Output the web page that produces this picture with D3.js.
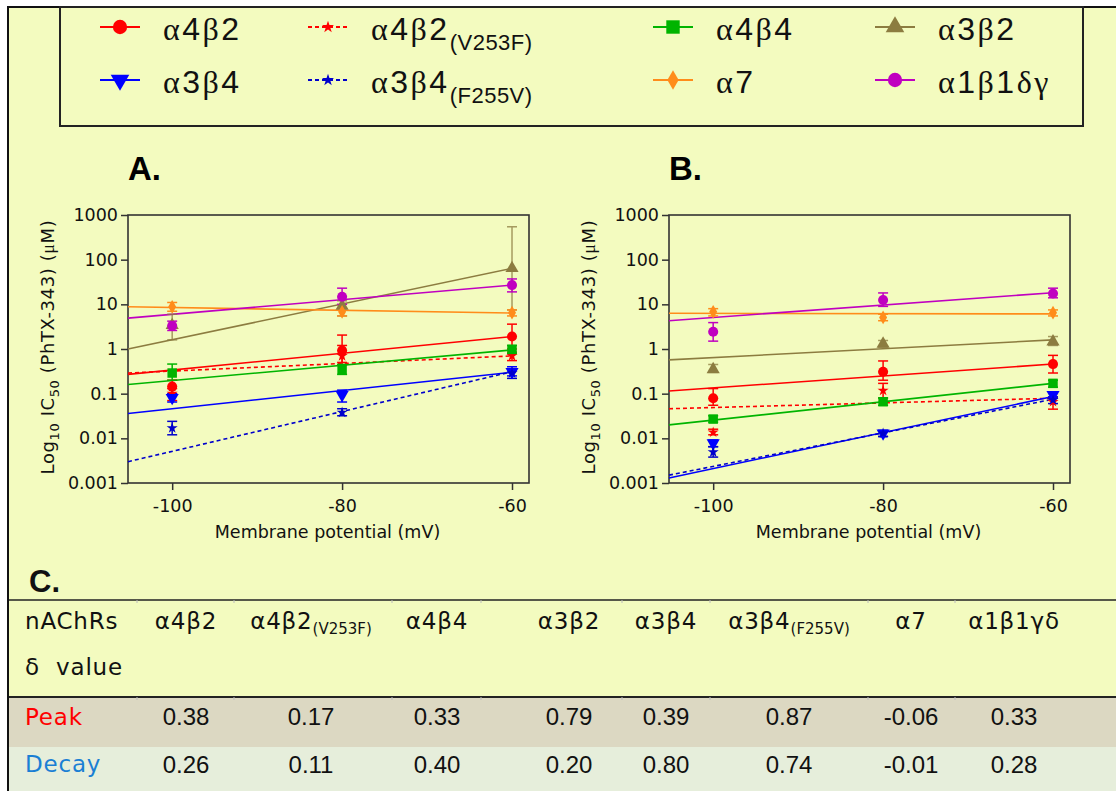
<!DOCTYPE html>
<html>
<head>
<meta charset="utf-8">
<script src="https://cdn.jsdelivr.net/npm/d3@7"></script>
<style>
  body { margin: 0; background: #fff; }
  svg { display: block; }
</style>
</head>
<body>
<svg id="chart" width="1116" height="791"></svg>
<script>
// ---- data ----
var voltages = [-100, -80, -60];
var fitRange = [-105.2, -60];

var seriesKeys = ["a4b2", "a4b2V", "a4b4", "a3b2", "a3b4", "a3b4F", "a7", "a1b1dg"];
var legendMain = ["α4β2", "α4β2", "α4β4", "α3β2", "α3β4", "α3β4", "α7", "α1β1δγ"];
var legendSub  = ["", "(V253F)", "", "", "", "(F255V)", "", ""];

// panel A (peak) - IC50 in uM at -100, -80, -60 mV
var peakMean = [
    [0.144, 0.92, 1.9],
    [0.10, 0.70, 0.70],
    [0.29, 0.35, 0.98],
    [3.4, 9.2, 64],
    [0.081, 0.094, 0.31],
    [0.017, 0.038, 0.29],
    [8.8, 6.8, 6.5],
    [3.3, 14.8, 27]
];
var peakLow = [
    [0.10, 0.44, 1.0],
    [0.07, 0.50, 0.55],
    [0.20, 0.27, 0.80],
    [1.6, 5.5, 7.5],
    [0.065, 0.065, 0.25],
    [0.012, 0.032, 0.22],
    [7.0, 5.5, 5.5],
    [2.6, 10, 19]
];
var peakHigh = [
    [0.20, 2.05, 3.6],
    [0.13, 1.2, 0.85],
    [0.46, 0.45, 1.2],
    [6.0, 12, 545],
    [0.10, 0.12, 0.40],
    [0.024, 0.046, 0.36],
    [11, 8.0, 7.5],
    [4.2, 23, 37]
];
// fitted line values at fitRange ends
var peakFit = [
    [0.27, 1.9],
    [0.29, 0.70],
    [0.16, 0.95],
    [1.0, 64],
    [0.036, 0.30],
    [0.003, 0.31],
    [8.8, 6.4],
    [4.9, 27]
];

// panel B (decay)
var decayMean = [
    [0.079, 0.31, 0.46],
    [0.0137, 0.117, 0.066],
    [0.027, 0.066, 0.17],
    [0.35, 1.3, 1.46],
    [0.0078, 0.013, 0.094],
    [0.0049, 0.013, 0.072],
    [6.8, 5.1, 6.5],
    [2.44, 12.5, 17.5]
];
var decayLow = [
    [0.055, 0.20, 0.29],
    [0.012, 0.08, 0.045],
    [0.023, 0.055, 0.14],
    [0.30, 1.1, 1.2],
    [0.0065, 0.011, 0.08],
    [0.0038, 0.011, 0.06],
    [5.5, 4.3, 5.5],
    [1.5, 9, 14]
];
var decayHigh = [
    [0.13, 0.54, 0.72],
    [0.016, 0.17, 0.08],
    [0.032, 0.08, 0.20],
    [0.45, 1.55, 1.9],
    [0.0092, 0.015, 0.11],
    [0.0065, 0.015, 0.085],
    [8.0, 6.0, 7.5],
    [3.9, 18, 23]
];
var decayFit = [
    [0.115, 0.46],
    [0.046, 0.079],
    [0.02, 0.17],
    [0.57, 1.6],
    [0.0013, 0.086],
    [0.0015, 0.075],
    [6.3, 6.1],
    [4.3, 18.2]
];

var yTicks = [0.001, 0.01, 0.1, 1, 10, 100, 1000];
var xTicks = [-100, -80, -60];

// table C
var tableMain = ["α4β2", "α4β2", "α4β4", "α3β2", "α3β4", "α3β4", "α7", "α1β1γδ"];
var tableSub  = ["", "(V253F)", "", "", "", "(F255V)", "", ""];
var peakDelta  = ["0.38", "0.17", "0.33", "0.79", "0.39", "0.87", "-0.06", "0.33"];
var decayDelta = ["0.26", "0.11", "0.40", "0.20", "0.80", "0.74", "-0.01", "0.28"];

// ---- styles ----
var colors = ["#ff0000", "#ff0000", "#00b400", "#8c7c40", "#0000ff", "#0000cc", "#ff8c1a", "#c000c0"];
var dashed = [false, true, false, false, false, true, false, false];
var shapes = ["circle", "star", "square", "triangle", "triangleDown", "star", "diamond", "circle"];
var bg = "#f3fbbf";
var axisFont = "'DejaVu Sans', Verdana, sans-serif";

var svg = d3.select("#chart");

svg.append("rect")
    .attr("x", 8).attr("y", 7)
    .attr("width", 1116).attr("height", 800)
    .attr("fill", bg)
    .attr("stroke", "#111")
    .attr("stroke-width", 2);

function symbolPath(shape, scale) {
    var t = {
        circle: [d3.symbolCircle, 80],
        star: [d3.symbolStar, 38],
        square: [d3.symbolSquare, 90],
        triangle: [d3.symbolTriangle, 75],
        triangleDown: [d3.symbolTriangle, 75],
        diamond: [d3.symbolDiamond, 55]
    }[shape];
    return d3.symbol().type(t[0]).size(t[1] * scale)();
}

function drawMarker(g, i, cx, cy, scale) {
    g.append("path")
        .attr("d", symbolPath(shapes[i], scale))
        .attr("transform", "translate(" + cx + "," + cy + ")" + (shapes[i] === "triangleDown" ? " rotate(180)" : ""))
        .attr("fill", colors[i]);
}

// ---- panels ----
function drawPanel(left, label, means, lows, highs, fits) {
    var top = 215, bottom = 483, right = left + 401;

    var x = d3.scaleLinear().domain([-105.2, -58]).range([left, right]);
    var y = d3.scaleLog().domain([0.001, 1000]).range([bottom, top]);

    var g = svg.append("g");

    g.append("text")
        .attr("x", left).attr("y", 180)
        .attr("font-family", "'Liberation Sans', Arial, sans-serif")
        .attr("font-weight", "bold")
        .attr("font-size", 33)
        .text(label);

    var yAxis = g.append("g")
        .attr("transform", "translate(" + left + ",0)")
        .call(d3.axisLeft(y).tickValues(yTicks).tickFormat(d3.format("~g")).tickSizeOuter(0).tickSize(7).tickPadding(3));
    var xAxis = g.append("g")
        .attr("transform", "translate(0," + bottom + ")")
        .call(d3.axisBottom(x).tickValues(xTicks).tickFormat(function(d) { return String(d); })
            .tickSizeOuter(0).tickSize(7).tickPadding(10));

    [yAxis, xAxis].forEach(function(a) {
        a.select(".domain").remove();
        a.selectAll("line").attr("stroke", "#333").attr("stroke-width", 1.5);
        a.selectAll("text").attr("font-family", axisFont).attr("font-size", 17.5).attr("fill", "#111");
    });

    g.append("rect")
        .attr("x", left).attr("y", top)
        .attr("width", right - left).attr("height", bottom - top)
        .attr("fill", "none")
        .attr("stroke", "#333")
        .attr("stroke-width", 1.6);

    // y title
    var yt = g.append("text")
        .attr("transform", "translate(" + (left - 74) + "," + ((top + bottom) / 2 - 2) + ") rotate(-90)")
        .attr("text-anchor", "middle")
        .attr("font-family", axisFont)
        .attr("font-size", 18)
        .attr("letter-spacing", 0.6)
        .attr("fill", "#111");
    yt.append("tspan").text("Log");
    yt.append("tspan").attr("font-size", 13).attr("dy", 5).text("10");
    yt.append("tspan").attr("dy", -5).text(" IC");
    yt.append("tspan").attr("font-size", 13).attr("dy", 5).text("50");
    yt.append("tspan").attr("dy", -5).text(" (PhTX-343) (");
    yt.append("tspan").attr("font-family", "'Liberation Serif', serif").text("μ");
    yt.append("tspan").text("M)");

    g.append("text")
        .attr("x", (left + right) / 2 - 1).attr("y", 538)
        .attr("text-anchor", "middle")
        .attr("font-family", axisFont)
        .attr("font-size", 17.5)
        .attr("fill", "#111")
        .text("Membrane potential (mV)");

    var line = d3.line().x(function(d) { return x(d[0]); }).y(function(d) { return y(d[1]); });

    // fit lines
    fits.forEach(function(f, i) {
        g.append("path")
            .attr("d", line([[fitRange[0], f[0]], [fitRange[1], f[1]]]))
            .attr("fill", "none")
            .attr("stroke", colors[i])
            .attr("stroke-width", 1.6)
            .attr("stroke-dasharray", dashed[i] ? "4,3" : null);
    });

    // error bars
    means.forEach(function(m, i) {
        voltages.forEach(function(v, k) {
            var cx = x(v), y0 = y(lows[i][k]), y1 = y(highs[i][k]);
            var eb = g.append("g")
                .attr("stroke", colors[i])
                .attr("stroke-width", 1.5)
                .attr("opacity", i === 3 ? 0.75 : 1);
            eb.append("line").attr("x1", cx).attr("x2", cx).attr("y1", y0).attr("y2", y1);
            eb.append("line").attr("x1", cx - 5).attr("x2", cx + 5).attr("y1", y0).attr("y2", y0);
            eb.append("line").attr("x1", cx - 5).attr("x2", cx + 5).attr("y1", y1).attr("y2", y1);
        });
    });

    // markers
    means.forEach(function(m, i) {
        voltages.forEach(function(v, k) {
            drawMarker(g, i, x(v), y(m[k]), 1);
        });
    });
}

drawPanel(128, "A.", peakMean, peakLow, peakHigh, peakFit);
drawPanel(669, "B.", decayMean, decayLow, decayHigh, decayFit);

// ---- legend ----
var legend = svg.append("g");
legend.append("rect")
    .attr("x", 60).attr("y", 7)
    .attr("width", 1023).attr("height", 119)
    .attr("fill", bg)
    .attr("stroke", "#222")
    .attr("stroke-width", 2);

var legendCols = [100, 308, 653, 875];
var legendRows = [27, 80];

function greekLabel(el, str, greekFont, latinFont) {
    Array.from(str).forEach(function(ch) {
        var isGreek = /[\u0370-\u03ff]/.test(ch);
        el.append("tspan")
            .attr("font-family", isGreek ? greekFont : latinFont)
            .text(ch);
    });
}

seriesKeys.forEach(function(key, i) {
    var lx = legendCols[i % 4], ly = legendRows[Math.floor(i / 4)];
    legend.append("line")
        .attr("x1", lx).attr("x2", lx + 40)
        .attr("y1", ly).attr("y2", ly)
        .attr("stroke", colors[i])
        .attr("stroke-width", 2)
        .attr("stroke-dasharray", dashed[i] ? "4,3" : null);
    drawMarker(legend, i, lx + 20, ly, shapes[i] === "star" ? 1.2 : 2);

    var t = legend.append("text")
        .attr("x", lx + 63).attr("y", ly + 13)
        .attr("font-size", 32)
        .attr("letter-spacing", 2.5)
        .attr("fill", "#111");
    greekLabel(t, legendMain[i], "'Liberation Serif', serif", "'Liberation Sans', Arial, sans-serif");
    if (legendSub[i]) {
        t.append("tspan")
            .attr("font-family", "'Liberation Sans', Arial, sans-serif")
            .attr("font-size", 22)
            .attr("letter-spacing", 0.5)
            .attr("dy", 10)
            .text(legendSub[i]);
    }
});

// ---- table C ----
var table = svg.append("g");
var colX = [186, 311, 437, 569, 666, 789, 911, 1014];
var cellEdges = [137, 234, 392, 481, 622, 710, 868, 955];
var tableFont = "'DejaVu Sans', Verdana, sans-serif";
var numFont = "'Liberation Sans', Arial, sans-serif";

table.append("text")
    .attr("x", 29).attr("y", 592)
    .attr("font-family", "'Liberation Sans', Arial, sans-serif")
    .attr("font-weight", "bold")
    .attr("font-size", 31)
    .attr("fill", "#111")
    .text("C.");

table.append("rect").attr("x", 9).attr("y", 697).attr("width", 1107).attr("height", 50).attr("fill", "#dcd8c2");
table.append("rect").attr("x", 9).attr("y", 747).attr("width", 1107).attr("height", 44).attr("fill", "#e6eedb");
table.append("line").attr("x1", 9).attr("x2", 1116).attr("y1", 600).attr("y2", 600).attr("stroke", "#222").attr("stroke-width", 1.5);
table.append("line").attr("x1", 9).attr("x2", 1116).attr("y1", 697).attr("y2", 697).attr("stroke", "#222").attr("stroke-width", 2);

// faint cell-edge marks on the rules
cellEdges.forEach(function(cx) {
    [600, 697].forEach(function(ry) {
        table.append("line")
            .attr("x1", cx).attr("x2", cx)
            .attr("y1", ry).attr("y2", ry + 3)
            .attr("stroke", "#bbb").attr("stroke-width", 1);
    });
});

var rowLabels = [["nAChRs", 629, "#111"], ["δ  value", 675, "#111"], ["Peak", 725, "#ff0000"], ["Decay", 772, "#1a7fd4"]];
rowLabels.forEach(function(r) {
    table.append("text")
        .attr("x", 25).attr("y", r[1])
        .attr("font-family", tableFont).attr("font-size", 23).attr("letter-spacing", 0.8)
        .attr("fill", r[2])
        .attr("xml:space", "preserve")
        .text(r[0]);
});

tableMain.forEach(function(name, i) {
    var t = table.append("text")
        .attr("x", colX[i]).attr("y", 629)
        .attr("text-anchor", "middle")
        .attr("font-family", tableFont).attr("font-size", 23).attr("letter-spacing", 0.8)
        .attr("fill", "#111");
    t.append("tspan").text(name);
    if (tableSub[i]) {
        t.append("tspan").attr("font-size", 15).attr("dy", 5).attr("letter-spacing", 0).text(tableSub[i]);
    }
    table.append("text")
        .attr("x", colX[i]).attr("y", 725)
        .attr("text-anchor", "middle")
        .attr("font-family", numFont).attr("font-size", 24)
        .attr("fill", "#111")
        .text(peakDelta[i]);
    table.append("text")
        .attr("x", colX[i]).attr("y", 773)
        .attr("text-anchor", "middle")
        .attr("font-family", numFont).attr("font-size", 24)
        .attr("fill", "#111")
        .text(decayDelta[i]);
});
</script>
</body>
</html>
